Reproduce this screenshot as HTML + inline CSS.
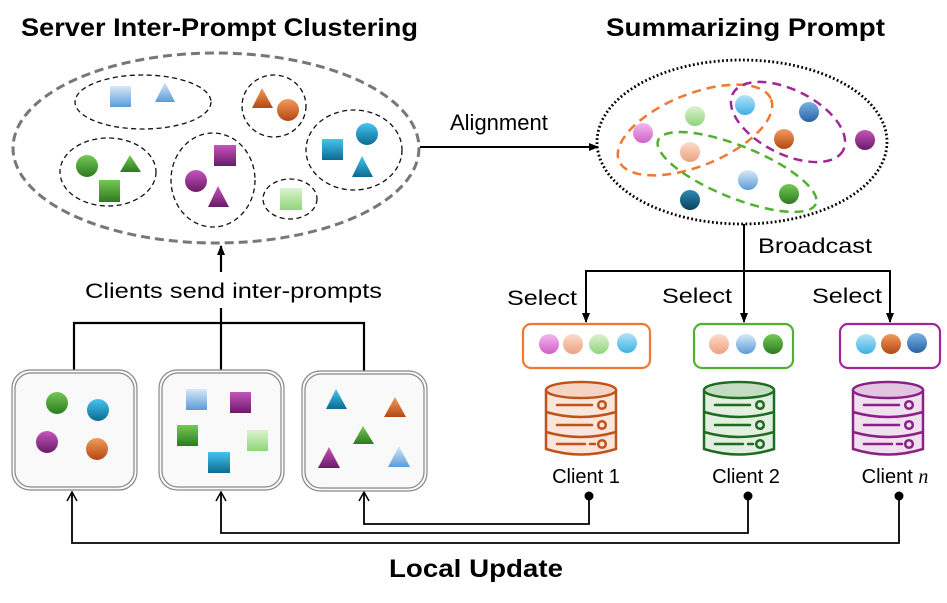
<!DOCTYPE html>
<html><head><meta charset="utf-8"><style>html,body{margin:0;padding:0;background:#fff}svg{display:block}</style></head><body>
<svg width="947" height="603" viewBox="0 0 947 603" xmlns="http://www.w3.org/2000/svg" font-family="Liberation Sans, Arial, sans-serif">
<defs>
<linearGradient id="g" x1="0" y1="0" x2="0" y2="1"><stop offset="0" stop-color="#74c955"/><stop offset="1" stop-color="#2d7a1f"/></linearGradient>
<linearGradient id="b" x1="0" y1="0" x2="0" y2="1"><stop offset="0" stop-color="#45c4f0"/><stop offset="1" stop-color="#0b6b92"/></linearGradient>
<linearGradient id="p" x1="0" y1="0" x2="0" y2="1"><stop offset="0" stop-color="#c555bd"/><stop offset="1" stop-color="#6b1a68"/></linearGradient>
<linearGradient id="o" x1="0" y1="0" x2="0" y2="1"><stop offset="0" stop-color="#f39a5c"/><stop offset="1" stop-color="#b34812"/></linearGradient>
<linearGradient id="lb" x1="0" y1="0" x2="0" y2="1"><stop offset="0" stop-color="#d8e9f8"/><stop offset="1" stop-color="#5b9bd9"/></linearGradient>
<linearGradient id="lg" x1="0" y1="0" x2="0" y2="1"><stop offset="0" stop-color="#dbf3cf"/><stop offset="1" stop-color="#8fd57a"/></linearGradient>
<linearGradient id="pk" x1="0" y1="0" x2="0" y2="1"><stop offset="0" stop-color="#f3b8ec"/><stop offset="1" stop-color="#d060c8"/></linearGradient>
<linearGradient id="pc" x1="0" y1="0" x2="0" y2="1"><stop offset="0" stop-color="#fbdccb"/><stop offset="1" stop-color="#eea07f"/></linearGradient>
<linearGradient id="lc" x1="0" y1="0" x2="0" y2="1"><stop offset="0" stop-color="#b5e5f8"/><stop offset="1" stop-color="#3bb0e3"/></linearGradient>
<linearGradient id="dt" x1="0" y1="0" x2="0" y2="1"><stop offset="0" stop-color="#2c8ab2"/><stop offset="1" stop-color="#09425d"/></linearGradient>
<linearGradient id="mb" x1="0" y1="0" x2="0" y2="1"><stop offset="0" stop-color="#78b2e6"/><stop offset="1" stop-color="#2a62a4"/></linearGradient>
<marker id="ar" markerWidth="10" markerHeight="10" refX="9" refY="5" orient="auto" markerUnits="userSpaceOnUse"><path d="M0,1 L10,5 L0,9 Z" fill="#000"/></marker>
<marker id="oa" markerWidth="12" markerHeight="12" refX="10" refY="6" orient="auto" markerUnits="userSpaceOnUse"><path d="M1,1 L10,6 L1,11" fill="none" stroke="#000" stroke-width="1.5"/></marker>
<g id="cyl">
<path d="M0,8 L0,67 Q35,78 70,67 L70,8" stroke-width="2.5"/>
<ellipse cx="35" cy="8" rx="35" ry="8" stroke-width="2.5"/>
<path d="M0,30 Q35,40 70,30 M0,50 Q35,60 70,50" fill="none" stroke-width="2.5"/>
<path d="M11,23 H46 M11,43 H46 M11,62 H39 M44,62 H49" fill="none" stroke-width="2.5" stroke-linecap="round"/>
<circle cx="56" cy="23" r="3.8" fill="none" stroke-width="2.5"/><circle cx="56" cy="43" r="3.8" fill="none" stroke-width="2.5"/><circle cx="56" cy="62" r="3.8" fill="none" stroke-width="2.5"/>
</g>
</defs>

<text x="21" y="36" font-size="25" font-weight="bold" textLength="397" lengthAdjust="spacingAndGlyphs">Server Inter-Prompt Clustering</text>
<text x="606" y="36" font-size="25" font-weight="bold" textLength="279" lengthAdjust="spacingAndGlyphs">Summarizing Prompt</text>

<ellipse cx="216" cy="148" rx="203" ry="95" fill="none" stroke="#777" stroke-width="3" stroke-dasharray="9,5"/>
<g fill="none" stroke="#111" stroke-width="1.3" stroke-dasharray="5,3.5">
<ellipse cx="143" cy="102" rx="68" ry="27"/>
<ellipse cx="274" cy="106" rx="32" ry="31"/>
<ellipse cx="108" cy="172" rx="48" ry="34"/>
<ellipse cx="213" cy="180" rx="42" ry="47"/>
<ellipse cx="290" cy="199" rx="27" ry="20"/>
<ellipse cx="354" cy="150" rx="48" ry="40"/>
</g>
<rect x="110" y="86" width="21" height="21" fill="url(#lb)"/>
<path d="M165,82 L175,102 L155,102Z" fill="url(#lb)"/>
<path d="M262,88 L273,108 L252,108Z" fill="url(#o)"/>
<circle cx="288" cy="110" r="11" fill="url(#o)"/>
<circle cx="87" cy="166" r="11" fill="url(#g)"/>
<path d="M130,155 L141,172 L120,172Z" fill="url(#g)"/>
<rect x="99" y="180" width="21" height="22" fill="url(#g)"/>
<rect x="214" y="145" width="22" height="21" fill="url(#p)"/>
<circle cx="196" cy="181" r="11" fill="url(#p)"/>
<path d="M218,186 L229,207 L208,207Z" fill="url(#p)"/>
<rect x="280" y="188" width="22" height="22" fill="url(#lg)"/>
<rect x="322" y="139" width="21" height="21" fill="url(#b)"/>
<circle cx="367" cy="134" r="11" fill="url(#b)"/>
<path d="M362,156 L373,177 L352,177Z" fill="url(#b)"/>

<line x1="420" y1="147" x2="598" y2="147" stroke="#000" stroke-width="2" marker-end="url(#ar)"/>
<text x="450" y="130" font-size="22">Alignment</text>

<ellipse cx="742" cy="142" rx="145" ry="82" fill="none" stroke="#000" stroke-width="2.8" stroke-dasharray="1.8,2.4"/>
<g fill="none" stroke-width="2.5" stroke-dasharray="9,6">
<ellipse cx="695" cy="130" rx="82" ry="36" transform="rotate(-22 695 130)" stroke="#f07830"/>
<ellipse cx="788" cy="122" rx="62" ry="32" transform="rotate(27 788 122)" stroke="#a0269a"/>
<ellipse cx="737" cy="172" rx="85" ry="26" transform="rotate(22 737 172)" stroke="#52b030"/>
</g>
<circle cx="643" cy="133" r="10" fill="url(#pk)"/>
<circle cx="695" cy="116" r="10" fill="url(#lg)"/>
<circle cx="745" cy="105" r="10" fill="url(#lc)"/>
<circle cx="809" cy="112" r="10" fill="url(#mb)"/>
<circle cx="784" cy="139" r="10" fill="url(#o)"/>
<circle cx="865" cy="140" r="10" fill="url(#p)"/>
<circle cx="690" cy="152" r="10" fill="url(#pc)"/>
<circle cx="748" cy="180" r="10" fill="url(#lb)"/>
<circle cx="789" cy="194" r="10" fill="url(#g)"/>
<circle cx="690" cy="200" r="10" fill="url(#dt)"/>

<g stroke="#000" stroke-width="2" fill="none">
<line x1="744" y1="224" x2="744" y2="271"/>
<path d="M586,322 V271 H890 V322" />
<line x1="586" y1="271" x2="586" y2="322" marker-end="url(#ar)"/>
<line x1="744" y1="271" x2="744" y2="322" marker-end="url(#ar)"/>
<line x1="890" y1="271" x2="890" y2="322" marker-end="url(#ar)"/>
</g>
<text x="758" y="253" font-size="21" textLength="114" lengthAdjust="spacingAndGlyphs">Broadcast</text>
<text x="507" y="305" font-size="21" textLength="70" lengthAdjust="spacingAndGlyphs">Select</text>
<text x="662" y="303" font-size="21" textLength="70" lengthAdjust="spacingAndGlyphs">Select</text>
<text x="812" y="303" font-size="21" textLength="70" lengthAdjust="spacingAndGlyphs">Select</text>

<rect x="523" y="324" width="127" height="44" rx="8" fill="#fff" stroke="#f07830" stroke-width="2.2"/>
<rect x="694" y="324" width="99" height="44" rx="8" fill="#fff" stroke="#52b030" stroke-width="2.2"/>
<rect x="840" y="324" width="100" height="44" rx="8" fill="#fff" stroke="#a0269a" stroke-width="2.2"/>
<circle cx="549" cy="344" r="10" fill="url(#pk)"/><circle cx="573" cy="344" r="10" fill="url(#pc)"/><circle cx="599" cy="344" r="10" fill="url(#lg)"/><circle cx="627" cy="343" r="10" fill="url(#lc)"/>
<circle cx="719" cy="344" r="10" fill="url(#pc)"/><circle cx="746" cy="344" r="10" fill="url(#lb)"/><circle cx="773" cy="344" r="10" fill="url(#g)"/>
<circle cx="866" cy="344" r="10" fill="url(#lc)"/><circle cx="891" cy="344" r="10" fill="url(#o)"/><circle cx="917" cy="343" r="10" fill="url(#mb)"/>

<use href="#cyl" x="546" y="382" fill="#fbe6dc" stroke="#c0531a"/>
<use href="#cyl" x="704" y="382" fill="#e3efe0" stroke="#1f6b22"/>
<use href="#cyl" x="853" y="382" fill="#f0e0f0" stroke="#8a2185"/>
<ellipse cx="581" cy="390" rx="33" ry="6.5" fill="#f5d4c3"/>
<ellipse cx="739" cy="390" rx="33" ry="6.5" fill="#c4dcc1"/>
<ellipse cx="888" cy="390" rx="33" ry="6.5" fill="#e2c6e1"/>

<text x="586" y="483" font-size="20" text-anchor="middle">Client 1</text>
<text x="746" y="483" font-size="20" text-anchor="middle">Client 2</text>
<text x="895" y="483" font-size="20" text-anchor="middle">Client <tspan font-family="Liberation Serif, serif" font-style="italic">n</tspan></text>

<g stroke="#000" stroke-width="1.8" fill="none">
<path d="M589,496 V524 H364 V492" marker-end="url(#oa)"/>
<path d="M748,496 V533 H221 V492" marker-end="url(#oa)"/>
<path d="M899,496 V543 H72 V492" marker-end="url(#oa)"/>
</g>
<circle cx="589" cy="496" r="4.5"/><circle cx="748" cy="496" r="4.5"/><circle cx="899" cy="496" r="4.5"/>
<text x="389" y="577" font-size="25" font-weight="bold" textLength="174" lengthAdjust="spacingAndGlyphs">Local Update</text>

<g stroke="#000" stroke-width="2.2" fill="none">
<path d="M74,370 V323 H364 V371"/>
<line x1="221" y1="370" x2="221" y2="308"/>
<line x1="221" y1="272" x2="221" y2="246" marker-end="url(#ar)"/>
</g>
<text x="85" y="298" font-size="21" textLength="297" lengthAdjust="spacingAndGlyphs">Clients send inter-prompts</text>

<g fill="#f9f9f9" stroke="#888" stroke-width="1.2">
<rect x="12" y="370" width="125" height="120" rx="18"/><rect x="15" y="373" width="119" height="114" rx="16" fill="none"/>
<rect x="159" y="370" width="125" height="120" rx="18"/><rect x="162" y="373" width="119" height="114" rx="16" fill="none"/>
<rect x="302" y="371" width="125" height="120" rx="18"/><rect x="305" y="374" width="119" height="114" rx="16" fill="none"/>
</g>
<circle cx="57" cy="403" r="11" fill="url(#g)"/><circle cx="98" cy="410" r="11" fill="url(#b)"/>
<circle cx="47" cy="442" r="11" fill="url(#p)"/><circle cx="97" cy="449" r="11" fill="url(#o)"/>
<rect x="186" y="389" width="21" height="21" fill="url(#lb)"/><rect x="230" y="392" width="21" height="21" fill="url(#p)"/>
<rect x="177" y="425" width="21" height="21" fill="url(#g)"/><rect x="247" y="430" width="21" height="21" fill="url(#lg)"/>
<rect x="208" y="452" width="22" height="21" fill="url(#b)"/>
<path d="M336,389 L347,409 L326,409Z" fill="url(#b)"/>
<path d="M395,397 L406,417 L384,417Z" fill="url(#o)"/>
<path d="M363,426 L374,444 L353,444Z" fill="url(#g)"/>
<path d="M329,447 L340,468 L318,468Z" fill="url(#p)"/>
<path d="M399,446 L410,467 L388,467Z" fill="url(#lb)"/>
</svg>
</body></html>
